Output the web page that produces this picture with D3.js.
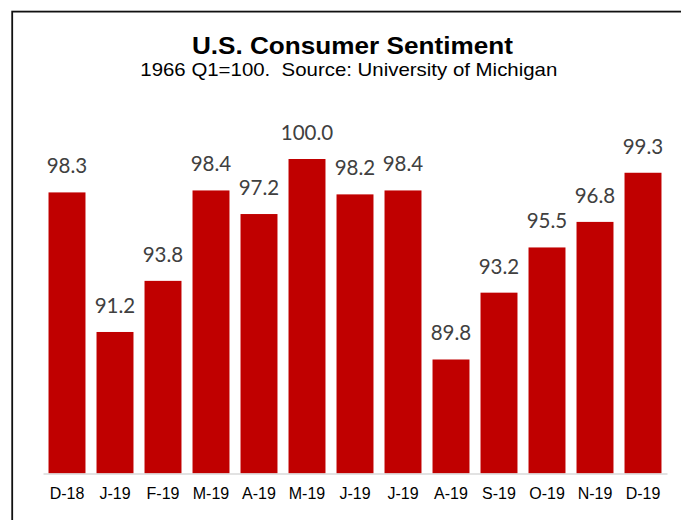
<!DOCTYPE html>
<html>
<head>
<meta charset="utf-8">
<script src="https://cdn.jsdelivr.net/npm/d3@7"></script>
<style>
  html, body { margin: 0; padding: 0; background: #fff; }
  svg { display: block; }
</style>
</head>
<body>
<svg id="chart" width="681" height="520"></svg>
<script>
const categories = ["D-18","J-19","F-19","M-19","A-19","M-19","J-19","J-19","A-19","S-19","O-19","N-19","D-19"];
const values = [98.3, 91.2, 93.8, 98.4, 97.2, 100.0, 98.2, 98.4, 89.8, 93.2, 95.5, 96.8, 99.3];
const titleText = "U.S. Consumer Sentiment";
const subtitleText = "1966 Q1=100.  Source: University of Michigan";

const svg = d3.select("#chart");

// frame (left and top edges visible)
svg.append("rect")
  .attr("x", 12.2).attr("y", 11.6)
  .attr("width", 700).attr("height", 540)
  .attr("fill", "none").attr("stroke", "#111").attr("stroke-width", 1.8);

const x = d3.scaleBand()
  .domain(d3.range(categories.length))
  .range([43, 667])
  .paddingInner(0.23)
  .paddingOuter(0.115);

const y = d3.scaleLinear().domain([84, 100]).range([473.5, 159]);

// bars
svg.append("g").selectAll("rect")
  .data(values)
  .join("rect")
  .attr("x", (d, i) => x(i))
  .attr("y", d => y(d))
  .attr("width", x.bandwidth())
  .attr("height", d => y(84) - y(d))
  .attr("fill", "#C00000");

// axis
const axis = svg.append("g")
  .attr("transform", `translate(0,${y(84)})`)
  .call(d3.axisBottom(x).tickSize(0).tickFormat(i => categories[i]));
axis.select(".domain").attr("stroke", "#d9d9d9").attr("stroke-width", 1.6);
axis.selectAll("text")
  .attr("y", 25).attr("dy", 0)
  .attr("fill", "#000")
  .style("font-family", "'Liberation Sans', Arial, sans-serif")
  .style("font-size", "16px");

// data labels
svg.append("g").selectAll("text")
  .data(values)
  .join("text")
  .attr("x", (d, i) => x(i) + x.bandwidth() / 2)
  .attr("y", d => y(d) - 19)
  .attr("text-anchor", "middle")
  .attr("fill", "#404040")
  .style("font-family", "Lato, 'Open Sans', sans-serif")
  .style("font-size", "20.5px")
  .text(d => d.toFixed(1));

// titles
svg.append("text")
  .attr("x", 352.4).attr("y", 54)
  .attr("text-anchor", "middle")
  .attr("textLength", 321).attr("lengthAdjust", "spacingAndGlyphs")
  .style("font-family", "'Liberation Sans', Arial, sans-serif")
  .style("font-weight", "bold")
  .style("font-size", "24px")
  .attr("fill", "#000")
  .text(titleText);

svg.append("text")
  .attr("x", 348.8).attr("y", 75.5)
  .attr("text-anchor", "middle")
  .attr("textLength", 417).attr("lengthAdjust", "spacingAndGlyphs")
  .style("font-family", "'Liberation Sans', Arial, sans-serif")
  .style("font-size", "18.5px")
  .style("white-space", "pre")
  .attr("fill", "#000")
  .text(subtitleText);
</script>
</body>
</html>
